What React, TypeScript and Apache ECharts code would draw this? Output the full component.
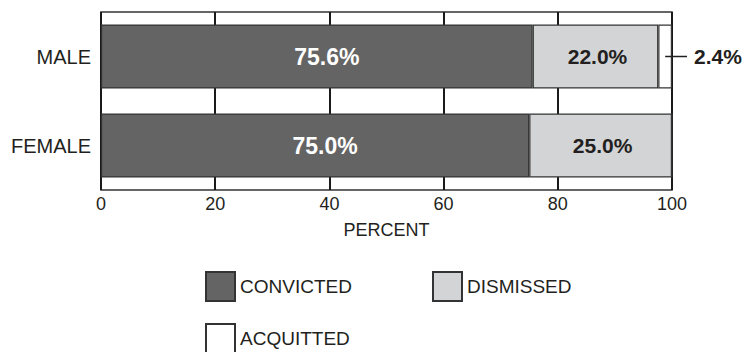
import React, { useEffect, useRef } from "react";
import * as echarts from "echarts";

const categories = ["MALE", "FEMALE"];
const convicted = [75.6, 75.0];
const dismissed = [22.0, 25.0];
const acquitted = [2.4, 0];
const xTicks = [0, 20, 40, 60, 80, 100];

const FONT = "'Liberation Sans', Arial, Helvetica, sans-serif";
const INK = "#231f20";
const EDGE = "#333333";

export default function App() {
  const ref = useRef<HTMLDivElement>(null);
  useEffect(() => {
    if (!ref.current) return;
    const chart = echarts.init(ref.current, null, { renderer: "svg" });
    const fmt = (p: any) => (p.value > 0 ? p.value.toFixed(1) + "%" : "");
    chart.setOption({
      animation: false,
      backgroundColor: "#ffffff",
      textStyle: { fontFamily: FONT },
      grid: {
        left: 101,
        right: 73,
        top: 12,
        bottom: 162,
        show: true,
        borderColor: EDGE,
        borderWidth: 1.5,
        backgroundColor: "transparent",
      },
      xAxis: {
        type: "value",
        min: xTicks[0],
        max: xTicks[xTicks.length - 1],
        interval: 20,
        name: "PERCENT",
        nameLocation: "middle",
        nameGap: 31,
        nameTextStyle: { fontSize: 18, color: INK, fontFamily: FONT },
        axisLine: { show: false },
        axisTick: { show: false },
        axisLabel: { fontSize: 18, color: INK, margin: 5, fontFamily: FONT },
        splitLine: { show: true, lineStyle: { color: "#1a1a1a", width: 2 } },
      },
      yAxis: {
        type: "category",
        data: categories,
        inverse: true,
        axisLine: { show: false },
        axisTick: { show: false },
        axisLabel: { fontSize: 20, color: INK, margin: 10, fontFamily: FONT },
        splitLine: { show: false },
      },
      legend: [
        {
          data: ["CONVICTED"],
          left: 205,
          top: 271,
          padding: 0,
          icon: "rect",
          itemWidth: 29,
          itemHeight: 29,
          textStyle: { fontSize: 19, color: INK, fontFamily: FONT },
          selectedMode: false,
        },
        {
          data: ["DISMISSED"],
          left: 432,
          top: 271,
          padding: 0,
          icon: "rect",
          itemWidth: 29,
          itemHeight: 29,
          textStyle: { fontSize: 19, color: INK, fontFamily: FONT },
          selectedMode: false,
        },
        {
          data: ["ACQUITTED"],
          left: 205,
          top: 323,
          padding: 0,
          icon: "rect",
          itemWidth: 29,
          itemHeight: 29,
          textStyle: { fontSize: 19, color: INK, fontFamily: FONT },
          selectedMode: false,
        },
      ],
      series: [
        {
          name: "CONVICTED",
          type: "bar",
          stack: "total",
          barWidth: "72%",
          data: convicted,
          itemStyle: { color: "#646464", borderColor: EDGE, borderWidth: 1.2 },
          label: {
            show: true,
            position: "inside",
            offset: [10, 0],
            formatter: fmt,
            color: "#ffffff",
            fontWeight: "bold",
            fontSize: 23,
            fontFamily: FONT,
          },
        },
        {
          name: "DISMISSED",
          type: "bar",
          stack: "total",
          data: dismissed,
          itemStyle: { color: "#d3d4d6", borderColor: EDGE, borderWidth: 1.2 },
          label: {
            show: true,
            position: "inside",
            offset: [2, 0],
            formatter: fmt,
            color: INK,
            fontWeight: "bold",
            fontSize: 21,
            fontFamily: FONT,
          },
        },
        {
          name: "ACQUITTED",
          type: "bar",
          stack: "total",
          data: acquitted,
          itemStyle: { color: "#ffffff", borderColor: EDGE, borderWidth: 1.2 },
          label: {
            show: true,
            position: "right",
            distance: 22,
            formatter: fmt,
            color: INK,
            fontWeight: "bold",
            fontSize: 21,
            fontFamily: FONT,
          },
        },
      ],
    });

    // leader line for small acquitted segment(s)
    const graphics: any[] = [];
    acquitted.forEach((v, i) => {
      if (v <= 0) return;
      const total = convicted[i] + dismissed[i] + v;
      const mid = convicted[i] + dismissed[i] + v / 2;
      const p1 = chart.convertToPixel({ gridIndex: 0 }, [mid, i]) as number[];
      const p2 = chart.convertToPixel({ gridIndex: 0 }, [total, i]) as number[];
      if (!p1 || !p2) return;
      graphics.push({
        type: "line",
        shape: { x1: p1[0], y1: p1[1], x2: p2[0] + 15, y2: p2[1] },
        style: { stroke: INK, lineWidth: 1.5 },
        z: 100,
      });
    });
    chart.setOption({ graphic: graphics });

    return () => chart.dispose();
  }, []);
  return (
    <div
      ref={ref}
      style={{ position: "fixed", left: 0, top: 0, width: 745, height: 352 }}
    />
  );
}
